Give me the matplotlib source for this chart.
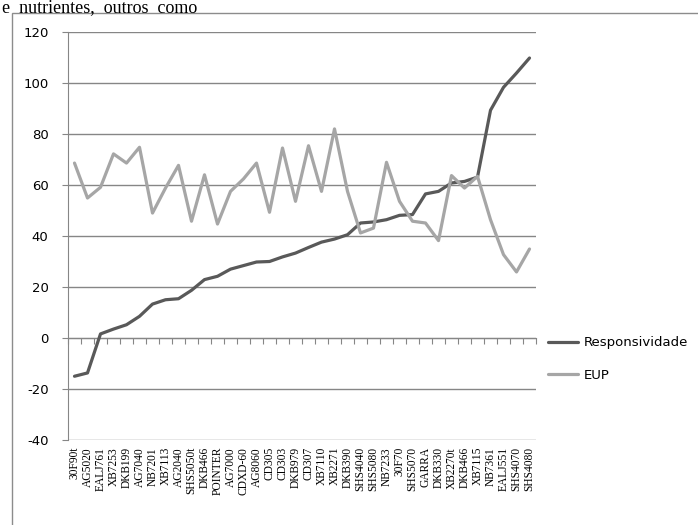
import matplotlib
matplotlib.use("Agg")
import matplotlib.pyplot as plt
from matplotlib.patches import Rectangle

categories = ["30F90t", "AG5020", "EALJ761", "XB7253", "DKB199", "AG7040", "NB7201",
              "XB7113", "AG2040", "SHS5050t", "DKB466", "POINTER", "AG7000", "CDXD-60",
              "AG8060", "CD305", "CD303", "DKB979", "CD307", "XB7110", "XB2271", "DKB390",
              "SHS4040", "SHS5080", "NB7233", "30F70", "SHS5070", "GARRA", "DKB330",
              "XB2270t", "DKB466", "XB7115", "NB7361", "EALJ551", "SHS4070", "SHS4080"]

responsividade = [-15.0, -13.7, 1.6, 3.5, 5.2, 8.5, 13.3, 15.0, 15.4, 18.7, 22.9, 24.2,
                  27.0, 28.4, 29.8, 30.0, 31.8, 33.3, 35.5, 37.6, 38.8, 40.5, 45.1, 45.5,
                  46.4, 48.1, 48.4, 56.5, 57.5, 60.8, 61.4, 63.1, 89.3, 98.3, 103.9, 109.8]

eup = [68.6, 54.9, 59.1, 72.2, 68.6, 74.8, 49.0, 58.8, 67.7, 45.8, 64.0, 44.7,
       57.5, 62.4, 68.6, 49.3, 74.5, 53.6, 75.4, 57.5, 82.0, 57.5, 41.2, 43.1,
       68.9, 53.6, 45.8, 45.1, 38.2, 63.7, 58.8, 63.4, 46.4, 32.7, 25.9, 34.9]

yticks = [-40, -20, 0, 20, 40, 60, 80, 100, 120]

W, H = 698, 525
fig = plt.figure(figsize=(W / 100, H / 100), dpi=100)

# surrounding document text and chart frame
fig.text(2 / W, 1 - 12 / H, "e  nutrientes,  outros  como", family="Liberation Serif",
         fontsize=13, va="baseline", ha="left", color="black")
fig.patches.append(Rectangle((12 / W, -0.05), 1.0, 1 - 13 / H + 0.05, transform=fig.transFigure,
                             fill=False, edgecolor="#8c8c8c", linewidth=1.0))

ax = fig.add_axes([68 / W, 1 - 440 / H, (536 - 68) / W, (440 - 32) / H])
x = list(range(len(categories)))

ax.plot(x, responsividade, color="#595959", linewidth=2.3, label="Responsividade",
        solid_capstyle="round", solid_joinstyle="round")
ax.plot(x, eup, color="#a6a6a6", linewidth=2.3, label="EUP",
        solid_capstyle="round", solid_joinstyle="round")

ax.set_xlim(-0.5, len(categories) - 0.5)
ax.set_ylim(-40, 120)
ax.set_yticks(yticks)
ax.set_yticklabels([str(v) for v in yticks], family="DejaVu Sans", fontsize=9.5)
ax.yaxis.grid(True, color="#868686", linewidth=1.0)
ax.set_axisbelow(True)
ax.tick_params(axis="y", length=4, color="#868686", pad=10)

ax.set_xticks(x)
ax.set_xticklabels(categories, rotation=90, family="Liberation Serif", fontsize=8.3)
ax.tick_params(axis="x", length=0, pad=5)

for s in ["top", "right", "bottom"]:
    ax.spines[s].set_visible(False)
ax.spines["left"].set_color("#868686")

# category axis crossing at zero with boundary tick marks
sec = ax.secondary_xaxis(40 / 160)
sec.set_xticks([i - 0.5 for i in range(len(categories) + 1)])
sec.set_xticklabels([])
sec.tick_params(axis="x", length=4, color="#868686", direction="out")
sec.spines["bottom"].set_color("#868686")

leg = fig.legend(loc="center left", bbox_to_anchor=(536 / W, 1 - 359 / H), frameon=False,
                 prop={"family": "DejaVu Sans", "size": 9.5},
                 handlelength=2.3, handletextpad=0.4, labelspacing=1.45)

fig.savefig("out.png", dpi=100)
